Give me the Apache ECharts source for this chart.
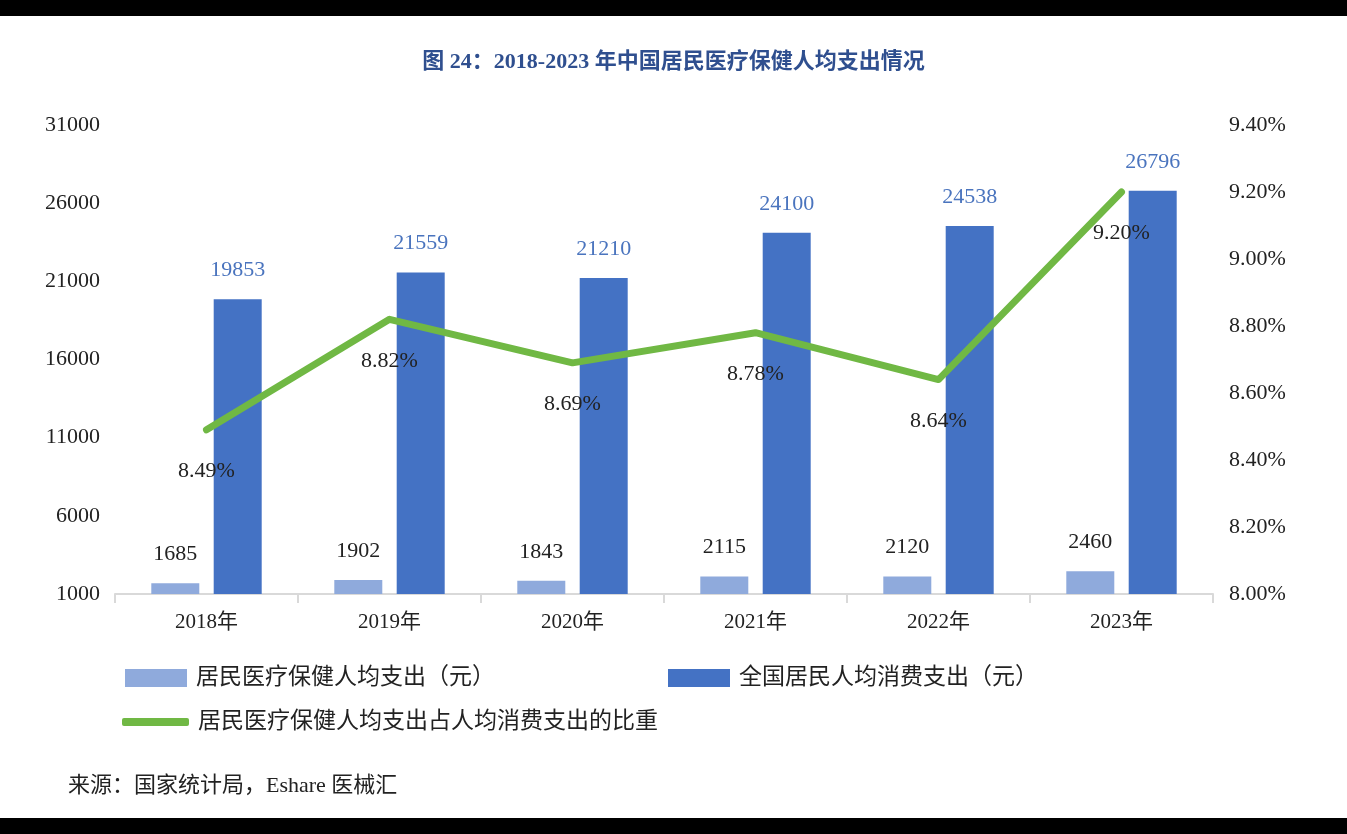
<!DOCTYPE html>
<html>
<head>
<meta charset="utf-8">
<script src="https://cdn.jsdelivr.net/npm/echarts@6/dist/echarts.min.js"></script>
<style>
html,body{margin:0;padding:0;background:#fff;}
#chart{width:1347px;height:834px;}
</style>
</head>
<body>
<div id="chart"></div>
<script>
var categories = ['2018年', '2019年', '2020年', '2021年', '2022年', '2023年'];
var healthSpend = [1685, 1902, 1843, 2115, 2120, 2460];
var totalSpend = [19853, 21559, 21210, 24100, 24538, 26796];
var shareRatio = [8.49, 8.82, 8.69, 8.78, 8.64, 9.20];
var nameHealth = '居民医疗保健人均支出（元）';
var nameTotal = '全国居民人均消费支出（元）';
var nameShare = '居民医疗保健人均支出占人均消费支出的比重';

var serif = '"Liberation Serif", "Noto Sans CJK SC", serif';
var cjk = '"Liberation Serif", "Noto Sans CJK SC", sans-serif';

var chart = echarts.init(document.getElementById('chart'));
chart.setOption({
  backgroundColor: '#ffffff',
  animation: false,
  title: {
    text: '图 24：2018-2023 年中国居民医疗保健人均支出情况',
    left: 'center',
    top: 46,
    textStyle: { fontFamily: cjk, fontSize: 22, fontWeight: 'bold', color: '#2F4F8F' }
  },
  graphic: [
    { type: 'rect', left: 0, top: 0, shape: { width: 1347, height: 16 }, style: { fill: '#000' } },
    { type: 'rect', left: 0, top: 818, shape: { width: 1347, height: 16 }, style: { fill: '#000' } },
    { type: 'text', left: 68, top: 775, style: { text: '来源：国家统计局，Eshare 医械汇', font: '22px ' + cjk, fill: '#222' } }
  ],
  legend: [
    { data: [nameHealth], left: 120, top: 659, itemWidth: 62, itemHeight: 18, icon: 'rect',
      textStyle: { fontFamily: cjk, fontSize: 23, color: '#222', lineHeight: 28, padding: [0, 0, 0, 4] } },
    { data: [nameTotal], left: 663, top: 659, itemWidth: 62, itemHeight: 18, icon: 'rect',
      textStyle: { fontFamily: cjk, fontSize: 23, color: '#222', lineHeight: 28, padding: [0, 0, 0, 4] } },
    { data: [{ name: nameShare, icon: 'roundRect' }], left: 117, top: 703, itemWidth: 67, itemHeight: 8,
      textStyle: { fontFamily: cjk, fontSize: 23, color: '#222', lineHeight: 28, padding: [0, 0, 0, 4] } }
  ],
  grid: { left: 115, right: 134, top: 125, bottom: 240, containLabel: false },
  xAxis: {
    type: 'category',
    data: categories,
    axisLine: { lineStyle: { color: '#D9D9D9', width: 2 } },
    axisTick: { show: true, length: 9, lineStyle: { color: '#D9D9D9', width: 2 } },
    axisLabel: { fontFamily: cjk, fontSize: 21, color: '#222', margin: 18 }
  },
  yAxis: [
    {
      type: 'value', min: 1000, max: 31000, interval: 5000,
      axisLine: { show: false }, axisTick: { show: false }, splitLine: { show: false },
      axisLabel: { fontFamily: serif, fontSize: 22, color: '#222', margin: 15,
        formatter: function (v) { return String(v); } }
    },
    {
      type: 'value', min: 8, max: 9.4, interval: 0.2, position: 'right',
      axisLine: { show: false }, axisTick: { show: false }, splitLine: { show: false },
      axisLabel: { fontFamily: serif, fontSize: 22, color: '#222', margin: 16,
        formatter: function (v) { return v.toFixed(2) + '%'; } }
    }
  ],
  series: [
    {
      name: nameHealth, type: 'bar', yAxisIndex: 0, data: healthSpend,
      barWidth: 48, barGap: '30%',
      itemStyle: { color: '#8FAADC' },
      label: { show: true, position: 'top', distance: 18, fontFamily: serif, fontSize: 22, color: '#222' }
    },
    {
      name: nameTotal, type: 'bar', yAxisIndex: 0, data: totalSpend,
      barWidth: 48,
      itemStyle: { color: '#4472C4' },
      label: { show: true, position: 'top', distance: 18, fontFamily: serif, fontSize: 22, color: '#4A74BE' }
    },
    {
      name: nameShare, type: 'line', yAxisIndex: 1, data: shareRatio,
      showSymbol: true, symbol: 'circle', symbolSize: 1,
      lineStyle: { color: '#70B844', width: 7, cap: 'round', join: 'round' },
      itemStyle: { color: '#70B844' },
      label: { show: true, position: 'bottom', distance: 30, fontFamily: serif, fontSize: 22, color: '#222',
        formatter: function (p) { return p.value.toFixed(2) + '%'; } },
      labelLayout: { hideOverlap: false },
      z: 5
    }
  ]
});
</script>
</body>
</html>
